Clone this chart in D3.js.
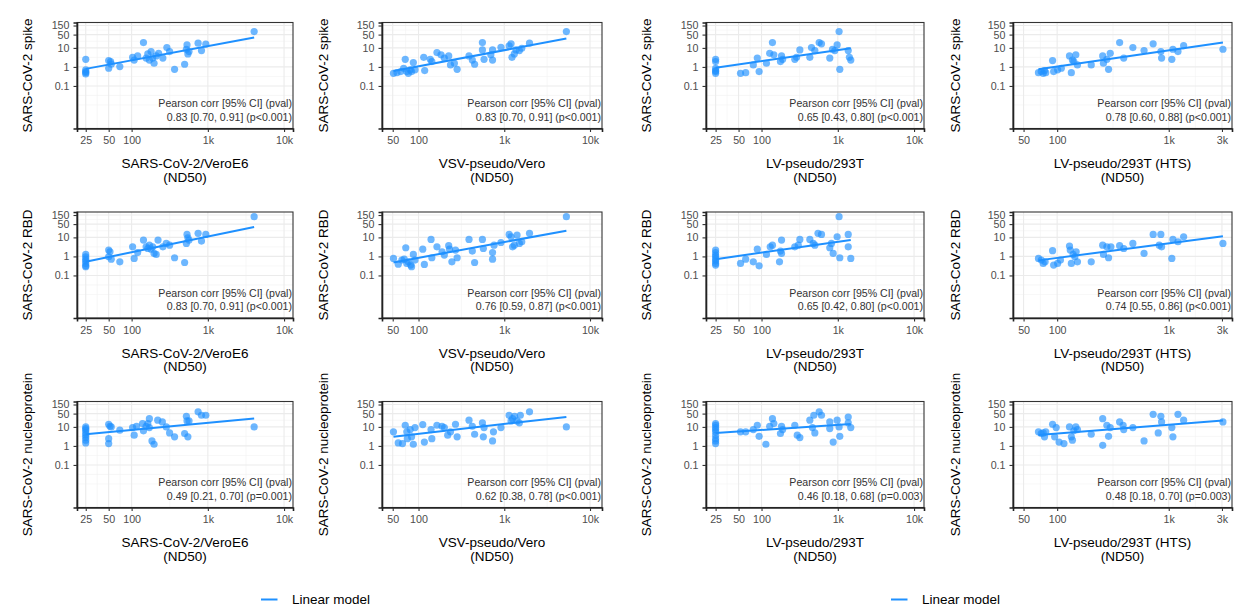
<!DOCTYPE html>
<html>
<head>
<meta charset="utf-8">
<script src="https://cdn.jsdelivr.net/npm/d3@7"></script>
<style>
  body { margin: 0; background: #fff; }
  text { font-family: "Liberation Sans", Arial, sans-serif; }
</style>
</head>
<body>
<svg id="chart" width="1241" height="614"></svg>
<script>
// ND50 values (x) against antibody titres (y), one array per panel
var spikeVero = [[25,2.5],[25,0.7],[25,0.57],[25,0.5],[25,0.43],[50,2.15],[53,1.9],[50,0.85],[54,1.4],[70,1.04],[103,3.2],[108,2.3],[120,3.8],[143,19],[155,2.9],[163,4.8],[180,6.4],[189,2.9],[171,2.3],[197,1.56],[210,3.8],[226,5.2],[257,2.9],[290,10.4],[315,6.4],[366,0.75],[496,1.38],[523,8.5],[533,14.4],[547,4.8],[566,6.4],[745,17.6],[825,7.2],[941,15.6],[4050,72]];
var spikeVsv = [[51,0.46],[56,0.5],[62,0.57],[67,0.85],[70,2.5],[73,0.57],[76,0.46],[80,0.7],[83,0.57],[87,1.7],[91,0.7],[115,3.2],[118,0.64],[137,2.5],[143,1.9],[164,5.7],[183,4.3],[200,2.9],[225,3.8],[236,1.27],[262,1.56],[282,0.75],[388,3.8],[424,2.3],[451,1.38],[556,19],[556,7.8],[581,2.5],[697,4.3],[730,7.8],[730,2.3],[915,10.8],[1140,12.8],[1200,16.3],[1230,3.2],[1310,4.8],[1370,7.8],[1500,7.2],[1600,9.6],[1970,17.6],[5300,72]];
var spikeLv = [[25,2.5],[25,1.9],[25,0.85],[25,0.64],[25,0.46],[25,0.57],[53,0.46],[62,0.5],[78,1.27],[88,2.9],[93,0.57],[116,1.56],[128,5.2],[139,19],[145,4.3],[177,1.9],[183,3.8],[189,2.5],[273,2.5],[288,3.2],[318,7.8],[430,3.2],[452,10.4],[500,7.2],[570,19],[611,16.3],[785,2.9],[852,8.5],[913,7.2],[980,14.4],[1040,72],[1062,0.75],[1370,7.2],[1420,3.2],[1480,2.3]];
var spikeHts = [[68,0.5],[72,0.57],[75,0.46],[77,0.64],[79,0.5],[91,2.15],[93,0.57],[101,0.7],[109,0.85],[129,3.8],[134,0.5],[137,2.3],[141,1.9],[147,4.3],[152,1.27],[202,1.27],[256,3.8],[260,1.56],[279,2.5],[289,0.75],[299,5.2],[363,19],[395,2.9],[477,10.4],[601,7.2],[725,16.3],[850,6.4],[863,2.9],[1066,2.5],[1090,8.5],[1210,6.4],[1360,13.2],[3060,8.5]];

var rbdVero = [[25,1.27],[25,0.96],[25,0.72],[25,0.57],[25,0.43],[25,0.32],[25,0.29],[50,2.15],[52,1.76],[50,0.96],[54,0.72],[70,0.52],[103,3.2],[108,0.78],[120,1.6],[143,7.2],[155,3.2],[163,2.6],[171,3.9],[180,2.4],[189,3.2],[197,1.44],[210,1.27],[222,7.2],[257,3.2],[285,4.8],[315,3.9],[366,0.85],[496,0.48],[523,4.8],[533,14.4],[547,9.6],[566,7.2],[745,16.3],[825,6.4],[941,14.4],[4050,123]];
var rbdVsv = [[51,0.78],[58,0.39],[64,0.64],[68,0.72],[71,2.85],[73,0.43],[76,0.52],[81,0.35],[83,0.29],[87,1.27],[91,0.64],[112,2.4],[117,0.38],[140,7.8],[143,0.85],[164,3.2],[188,1.76],[200,1.17],[225,3.65],[230,2.4],[245,0.52],[270,2.15],[282,0.85],[388,7.8],[424,1.9],[451,0.48],[556,7.8],[570,2.6],[730,1.6],[730,0.72],[760,3.9],[915,5.4],[1140,14.4],[1200,10.8],[1250,3.2],[1310,3.9],[1410,13.2],[1500,4.8],[1600,5.9],[1970,16.3],[5300,123]];
var rbdLv = [[25,2.15],[25,1.6],[25,1.17],[25,0.96],[25,0.72],[25,0.57],[25,0.43],[25,0.35],[53,0.43],[62,0.72],[78,0.52],[88,2.4],[93,0.32],[116,1.27],[130,3.2],[139,3.9],[177,1.9],[183,7.2],[183,1.44],[172,0.52],[273,3.2],[303,3.9],[318,7.8],[430,7.8],[476,4.8],[500,3.9],[550,16.3],[611,14.4],[785,2.85],[825,4.8],[870,1.44],[980,10.8],[1040,123],[1062,0.85],[1370,14.4],[1370,3.2],[1480,0.78]];
var rbdHts = [[68,0.78],[72,0.64],[75,0.43],[78,0.52],[91,2.0],[93,0.35],[101,0.43],[107,0.64],[129,3.5],[131,2.15],[134,0.43],[139,1.27],[144,0.96],[148,1.76],[152,0.52],[202,0.52],[256,3.9],[260,1.27],[279,3.2],[289,0.85],[303,3.2],[363,3.65],[395,2.6],[477,4.8],[601,1.44],[725,14.4],[850,14.4],[822,3.9],[863,3.2],[1066,0.78],[1090,7.8],[1210,5.9],[1360,10.8],[3060,4.8]];

var nucVero = [[25,10],[25,8.2],[25,6.7],[25,4.8],[25,3.65],[25,2.75],[25,2.0],[25,1.44],[50,13.8],[52,10.8],[50,2.4],[50,1.33],[54,10],[70,6.7],[103,9.2],[108,3.65],[116,10.8],[139,15],[143,6.2],[155,10.8],[163,15],[171,27],[171,9.2],[185,1.83],[197,1.22],[220,22.5],[253,18.3],[285,10],[315,4.8],[366,3],[496,4.5],[523,36],[533,20.7],[547,3],[566,20.7],[745,62],[825,41],[941,41],[4050,10]];
var nucVsv = [[51,5.5],[58,1.44],[65,1.33],[70,12.2],[73,5.5],[74,2.4],[80,7.2],[83,3],[87,1.22],[91,9.2],[112,13.2],[117,1.6],[140,7.2],[143,2.4],[164,12.2],[188,10.8],[200,9.2],[219,3.65],[236,5.5],[270,13.8],[282,3],[388,22.5],[424,10.8],[451,4.1],[556,16.3],[570,3],[581,9.2],[730,1.83],[748,5.5],[915,9.2],[1140,41],[1200,20.7],[1250,27],[1320,36],[1410,20.7],[1500,16.3],[1540,41],[1970,62],[5300,10]];
var nucLv = [[25,15],[25,12.2],[25,9.2],[25,7.2],[25,5.5],[25,3.65],[25,2.4],[25,1.83],[25,1.33],[53,5.5],[62,5.5],[78,7.2],[88,12.2],[93,3.2],[114,1.22],[128,10.8],[139,27],[145,15],[177,4.5],[183,10.8],[189,7.2],[273,12.2],[294,3.65],[318,2.75],[430,22.5],[465,9.2],[485,41],[500,4.8],[570,62],[611,41],[785,18.3],[785,8.2],[870,1.6],[980,22.5],[1040,10],[1062,3.2],[1370,33],[1370,16.3],[1480,9.2]];
var nucHts = [[68,5.5],[72,4.5],[75,4.8],[77,3],[79,5.5],[91,13.8],[98,9.2],[95,3],[104,1.6],[115,1.33],[129,10],[134,3],[137,2],[141,6.2],[147,10],[152,7.2],[202,4.1],[256,27],[256,1.08],[279,12.2],[289,3.2],[299,9.2],[363,18.3],[390,12.2],[395,7.2],[477,9.2],[601,1.83],[725,46],[805,4.8],[850,36],[863,18.3],[1066,9.2],[1090,3],[1210,46],[1360,22.5],[3060,18.3]];

var panelData = [
  [spikeVero, spikeVsv, spikeLv, spikeHts],
  [rbdVero, rbdVsv, rbdLv, rbdHts],
  [nucVero, nucVsv, nucLv, nucHts]
];

var xTitles = ["SARS-CoV-2/VeroE6", "VSV-pseudo/Vero", "LV-pseudo/293T", "LV-pseudo/293T (HTS)"];
var yTitles = ["SARS-CoV-2 spike", "SARS-CoV-2 RBD", "SARS-CoV-2 nucleoprotein"];

var xTickSets = [
  [25, 50, 100, 1000, 10000],
  [50, 100, 1000, 10000],
  [25, 50, 100, 1000, 10000],
  [50, 100, 1000, 3000]
];
var xDomains = [[19.2, 13100], [37.5, 13800], [18.7, 13500], [40.2, 3690]];
var yTicks = [0.1, 1, 10, 50, 150];
var yDomain = [0.00058, 216];

var stats = [
  ["0.83 [0.70, 0.91] (p<0.001)", "0.83 [0.70, 0.91] (p<0.001)", "0.65 [0.43, 0.80] (p<0.001)", "0.78 [0.60, 0.88] (p<0.001)"],
  ["0.83 [0.70, 0.91] (p<0.001)", "0.76 [0.59, 0.87] (p<0.001)", "0.65 [0.42, 0.80] (p<0.001)", "0.74 [0.55, 0.86] (p<0.001)"],
  ["0.49 [0.21, 0.70] (p=0.001)", "0.62 [0.38, 0.78] (p<0.001)", "0.46 [0.18, 0.68] (p=0.003)", "0.48 [0.18, 0.70] (p=0.003)"]
];
var statsHeader = "Pearson corr [95% CI] (pval)";

// layout
var colLeft = [77, 382, 706, 1013];
var colRight = [293, 602, 924, 1232];
var yTitleX = [27, 323, 646, 955];
var rowTop = [22.5, 212, 401.5];
var panelH = 106;
var blue = "#1e90ff";

var svg = d3.select("#chart");
svg.append("rect").attr("width", 1241).attr("height", 614).attr("fill", "#fff");

function fmtX(v) {
  return v >= 1000 ? (v / 1000) + "k" : String(v);
}

// least squares fit on log10 scale
function fitLog(pts) {
  var lx = pts.map(function(p) { return Math.log10(p[0]); });
  var ly = pts.map(function(p) { return Math.log10(p[1]); });
  var mx = d3.mean(lx), my = d3.mean(ly);
  var sxy = 0, sxx = 0;
  for (var i = 0; i < lx.length; i++) {
    sxy += (lx[i] - mx) * (ly[i] - my);
    sxx += (lx[i] - mx) * (lx[i] - mx);
  }
  var b = sxy / sxx;
  return function(x) { return Math.pow(10, my + b * (Math.log10(x) - mx)); };
}

// minor breaks halfway between major ones (in log space), plus one step past the ends
function minorBreaks(ticks, lo, hi) {
  var lt = ticks.map(Math.log10);
  var n = lt.length;
  var ext = [lt[0] - (lt[1] - lt[0])].concat(lt, [lt[n - 1] + (lt[n - 1] - lt[n - 2])]);
  var out = [ext[0], ext[ext.length - 1]];
  for (var i = 0; i < ext.length - 1; i++) out.push((ext[i] + ext[i + 1]) / 2);
  return out.map(function(v) { return Math.pow(10, v); })
    .filter(function(v) { return v > lo && v < hi; });
}

panelData.forEach(function(row, r) {
  row.forEach(function(pts, c) {
    var w = colRight[c] - colLeft[c];
    var g = svg.append("g").attr("transform", "translate(" + colLeft[c] + "," + rowTop[r] + ")");

    var x = d3.scaleLog().domain(xDomains[c]).range([0, w]);
    var y = d3.scaleLog().domain(yDomain).range([panelH, 0]);

    // grid
    var grid = g.append("g");
    minorBreaks(xTickSets[c], xDomains[c][0], xDomains[c][1]).forEach(function(v) {
      grid.append("line").attr("x1", x(v)).attr("x2", x(v)).attr("y1", 0).attr("y2", panelH)
        .attr("stroke", "#f2f2f2").attr("stroke-width", 0.6);
    });
    minorBreaks(yTicks, yDomain[0], yDomain[1]).forEach(function(v) {
      grid.append("line").attr("y1", y(v)).attr("y2", y(v)).attr("x1", 0).attr("x2", w)
        .attr("stroke", "#f2f2f2").attr("stroke-width", 0.6);
    });
    xTickSets[c].forEach(function(v) {
      grid.append("line").attr("x1", x(v)).attr("x2", x(v)).attr("y1", 0).attr("y2", panelH)
        .attr("stroke", "#ebebeb").attr("stroke-width", 1.1);
    });
    yTicks.forEach(function(v) {
      grid.append("line").attr("y1", y(v)).attr("y2", y(v)).attr("x1", 0).attr("x2", w)
        .attr("stroke", "#ebebeb").attr("stroke-width", 1.1);
    });

    // points
    g.append("g").selectAll("circle").data(pts).join("circle")
      .attr("cx", function(d) { return x(d[0]); })
      .attr("cy", function(d) { return y(d[1]); })
      .attr("r", 3.6)
      .attr("fill", blue)
      .attr("fill-opacity", 0.65);

    // linear model
    var f = fitLog(pts);
    var ext = d3.extent(pts, function(d) { return d[0]; });
    g.append("path")
      .attr("d", d3.line()([[x(ext[0]), y(f(ext[0]))], [x(ext[1]), y(f(ext[1]))]]))
      .attr("stroke", blue).attr("stroke-width", 2).attr("fill", "none");

    // stats text
    g.append("text").attr("x", w - 1).attr("y", 84.6).attr("text-anchor", "end")
      .attr("font-size", 10.6).attr("fill", "#333").text(statsHeader);
    g.append("text").attr("x", w - 1).attr("y", 98).attr("text-anchor", "end")
      .attr("font-size", 10.6).attr("fill", "#333").text(stats[r][c]);

    // border
    g.append("rect").attr("width", w).attr("height", panelH)
      .attr("fill", "none").attr("stroke", "#333").attr("stroke-width", 1.1);

    // axes
    var xAxis = g.append("g").attr("transform", "translate(0," + panelH + ")")
      .call(d3.axisBottom(x).tickValues(xTickSets[c]).tickFormat(fmtX).tickSize(3.5).tickPadding(4.5));
    var yAxis = g.append("g")
      .call(d3.axisLeft(y).tickValues(yTicks).tickFormat(function(v) { return String(v); }).tickSize(3.5).tickPadding(4));
    [xAxis, yAxis].forEach(function(a) {
      a.select(".domain").attr("stroke", "#222").attr("stroke-width", 1.6);
      a.selectAll(".tick line").attr("stroke", "#333").attr("stroke-width", 1.1);
      a.selectAll(".tick text").attr("fill", "#4d4d4d").attr("font-size", 10.7)
        .style("font-family", "'Liberation Sans', Arial, sans-serif");
    });

    // x title
    var xt = g.append("text").attr("text-anchor", "middle").attr("font-size", 13.5).attr("fill", "#000");
    xt.append("tspan").attr("x", w / 2).attr("y", panelH + 39.5).text(xTitles[c]);
    xt.append("tspan").attr("x", w / 2).attr("y", panelH + 53).text("(ND50)");

    // y title
    svg.append("text")
      .attr("transform", "translate(" + yTitleX[c] + "," + (rowTop[r] + panelH / 2) + ") rotate(-90)")
      .attr("text-anchor", "middle").attr("dy", "0.35em")
      .attr("font-size", 13.5).attr("fill", "#000").text(yTitles[r]);
  });
});

// legends, one per half of the figure
var legendX = [261, 891];
legendX.forEach(function(lx) {
  var lg = svg.append("g").attr("transform", "translate(" + lx + ",599.5)");
  lg.append("line").attr("x1", 0).attr("x2", 16.5).attr("stroke", blue).attr("stroke-width", 2);
  lg.append("text").attr("x", 31).attr("y", 0).attr("dy", "0.35em")
    .attr("font-size", 13.5).attr("fill", "#000").text("Linear model");
});
</script>
</body>
</html>
